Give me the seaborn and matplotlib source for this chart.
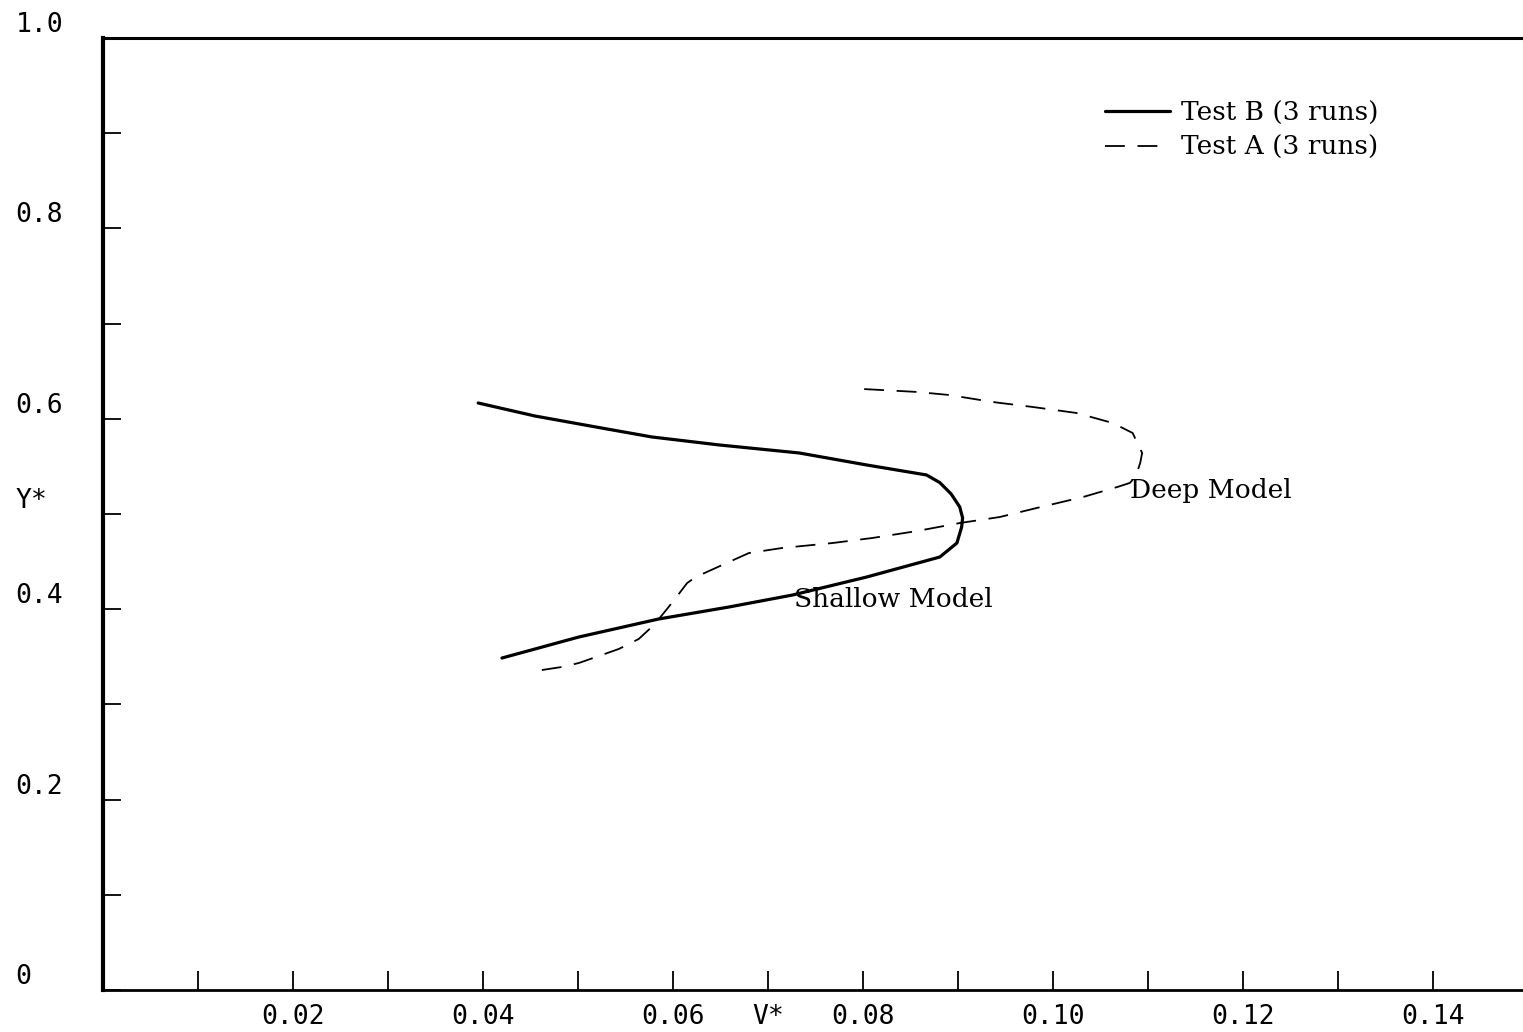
import matplotlib
matplotlib.use("Agg")
import matplotlib.pyplot as plt
import numpy as np
import pandas as pd
import seaborn as sns

# Test B (solid), traced top to bottom
test_b_v = [0.0395, 0.0455, 0.0525, 0.0578, 0.0649, 0.0733, 0.0804, 0.0867,
            0.0881, 0.0893, 0.0902, 0.0905, 0.0904, 0.0899, 0.0881, 0.0804,
            0.0726, 0.0659, 0.0585, 0.0501, 0.0420]
test_b_y = [0.6166, 0.6029, 0.5903, 0.5809, 0.5725, 0.5641, 0.5515, 0.5410,
            0.5330, 0.5210, 0.5074, 0.4960, 0.4863, 0.4695, 0.4548, 0.4338,
            0.4149, 0.4023, 0.3897, 0.3708, 0.3487]

# Test A (dashed), traced from bottom-left up to the top
test_a_v = [0.0462, 0.0483, 0.0501, 0.0522, 0.0543, 0.0564, 0.0580, 0.0593,
            0.0603, 0.0615, 0.0624, 0.0645, 0.0680, 0.0715, 0.0768, 0.0810,
            0.0857, 0.0902, 0.0944, 0.0983, 0.1032, 0.1068, 0.1081, 0.1087,
            0.1092, 0.1094, 0.1084, 0.1063, 0.1025, 0.0979, 0.0937, 0.0891,
            0.0857, 0.0800]
test_a_y = [0.3361, 0.3393, 0.3435, 0.3508, 0.3582, 0.3687, 0.3834, 0.3992,
            0.4118, 0.4275, 0.4338, 0.4433, 0.4590, 0.4643, 0.4695, 0.4748,
            0.4821, 0.4905, 0.4968, 0.5063, 0.5179, 0.5284, 0.5326, 0.5389,
            0.5536, 0.5641, 0.5851, 0.5956, 0.6061, 0.6124, 0.6176, 0.6250,
            0.6282, 0.6313]

x_ticks = [0.01 * i for i in range(1, 15)]
x_labels = ["", "0.02", "", "0.04", "", "0.06", "V*", "0.08", "", "0.10",
            "", "0.12", "", "0.14"]
y_ticks = [0.1 * i for i in range(0, 11)]
y_labels = ["0", "", "0.2", "", "0.4", "Y*", "0.6", "", "0.8", "", "1.0"]

sns.set_theme(style="white")
plt.rcParams["font.family"] = ["DejaVu Serif"]
plt.rcParams["text.color"] = "black"

W, H = 1523, 1032
fig = plt.figure(figsize=(W / 100, H / 100), dpi=100)
ax = fig.add_axes([103 / W, (H - 990) / H, (W - 103) / W, (990 - 38) / H])

df_b = pd.DataFrame({"v": test_b_v, "y": test_b_y})
df_a = pd.DataFrame({"v": test_a_v, "y": test_a_y})

sns.lineplot(data=df_b, x="v", y="y", sort=False, estimator=None, ax=ax,
             color="black", linewidth=2.3, label="Test B (3 runs)")
sns.lineplot(data=df_a, x="v", y="y", sort=False, estimator=None, ax=ax,
             color="black", linewidth=1.3, label="Test A (3 runs)")
ax.lines[1].set_dashes((11, 7))

ax.set_xlim(0, 0.1495)
ax.set_ylim(0, 1.0)
ax.set_xlabel("")
ax.set_ylabel("")

ax.set_xticks(x_ticks)
ax.set_xticklabels(x_labels, family="DejaVu Sans Mono", fontsize=19,
                   color="black")
ax.set_yticks(y_ticks)
ax.set_yticklabels(y_labels, family="DejaVu Sans Mono", fontsize=19,
                   ha="left", va="bottom", color="black")
ax.tick_params(axis="x", bottom=True, direction="in", length=14, width=1.3,
               pad=10, color="black")
ax.tick_params(axis="y", left=True, direction="in", length=13, width=1.3,
               pad=63, color="black")

for side in ["left", "bottom", "top"]:
    ax.spines[side].set_visible(True)
    ax.spines[side].set_color("black")
ax.spines["left"].set_linewidth(3.0)
ax.spines["bottom"].set_linewidth(2.0)
ax.spines["top"].set_linewidth(2.2)
ax.spines["right"].set_visible(False)

ax.text(0.1081, 0.525, "Deep Model", fontsize=19, va="center", ha="left",
        color="black")
ax.text(0.0728, 0.4097, "Shallow Model", fontsize=19, va="center", ha="left",
        color="black")

leg = ax.legend(loc="upper left", bbox_to_anchor=(0.696, 0.948), frameon=False,
                borderpad=0, handlelength=2.5, handletextpad=0.4,
                labelspacing=0.35, prop={"family": "DejaVu Serif", "size": 19})
for t in leg.get_texts():
    t.set_color("black")

fig.savefig("out.png", dpi=100, facecolor="white")
